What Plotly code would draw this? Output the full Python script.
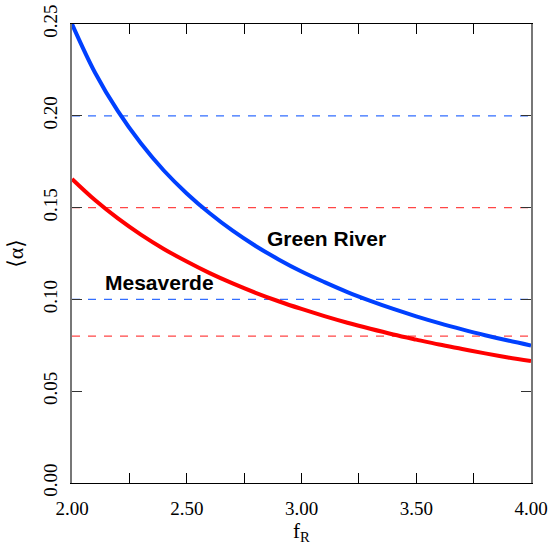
import plotly.graph_objects as go

# data
f_r = [2.0, 2.1, 2.2, 2.3, 2.4, 2.5, 2.6, 2.7, 2.8, 2.9, 3.0,
       3.1, 3.2, 3.3, 3.4, 3.5, 3.6, 3.7, 3.8, 3.9, 4.0]
green_river = [0.250, 0.2236, 0.2025, 0.1850, 0.1702, 0.1577, 0.1469, 0.1374, 0.1291, 0.1218, 0.1152,
               0.1094, 0.1040, 0.0992, 0.0948, 0.0908, 0.0871, 0.0837, 0.0805, 0.0776, 0.0749]
mesaverde = [0.1656, 0.1541, 0.1441, 0.1353, 0.1275, 0.1206, 0.1143, 0.1087, 0.1036, 0.0990, 0.0948,
             0.0909, 0.0873, 0.0840, 0.0809, 0.0781, 0.0754, 0.0730, 0.0706, 0.0684, 0.0664]
green_river_levels = [0.20, 0.10]
mesaverde_levels = [0.15, 0.08]

x_tickvals = [2.0, 2.5, 3.0, 3.5, 4.0]
x_ticktext = ["2.00", "2.50", "3.00", "3.50", "4.00"]
x_minor_tickvals = [2.25, 2.75, 3.25, 3.75]
y_tickvals = [0.0, 0.05, 0.10, 0.15, 0.20, 0.25]
y_ticktext = ["0.00", "0.05", "0.10", "0.15", "0.20", "0.25"]

BLUE = "rgb(0,64,255)"
RED = "rgb(255,0,0)"
BLUE_D = "rgb(50,110,255)"
RED_D = "rgb(255,70,70)"

fig = go.Figure()
for lv in green_river_levels:
    fig.add_trace(go.Scatter(x=[f_r[0], f_r[-1]], y=[lv, lv], mode="lines",
                             line=dict(color=BLUE_D, width=1.2, dash="8px,8px"),
                             showlegend=False, hoverinfo="skip"))
for lv in mesaverde_levels:
    fig.add_trace(go.Scatter(x=[f_r[0], f_r[-1]], y=[lv, lv], mode="lines",
                             line=dict(color=RED_D, width=1.2, dash="8px,8px"),
                             showlegend=False, hoverinfo="skip"))

fig.add_trace(go.Scatter(x=f_r, y=mesaverde, mode="lines", name="Mesaverde",
                         line=dict(color=RED, width=4, shape="spline"), showlegend=False))
fig.add_trace(go.Scatter(x=f_r, y=green_river, mode="lines", name="Green River",
                         line=dict(color=BLUE, width=4, shape="spline"), showlegend=False))

fig.add_annotation(x=3.107, y=0.133, text="<b>Green River</b>", showarrow=False,
                   font=dict(family="Liberation Sans, Arial", size=21, color="black"))
fig.add_annotation(x=2.383, y=0.109, text="<b>Mesaverde</b>", showarrow=False,
                   font=dict(family="Liberation Sans, Arial", size=21, color="black"))

axis_common = dict(showgrid=False, zeroline=False, showline=True,
                   mirror="ticks", ticks="inside", ticklen=10,
                   tickwidth=1.2, automargin=False,
                   tickfont=dict(family="Liberation Serif, Times New Roman, serif", size=19, color="black"))

fig.update_xaxes(range=[2.0, 4.0], tickmode="array", tickvals=x_tickvals, ticktext=x_ticktext,
                 minor=dict(tickmode="array", tickvals=x_minor_tickvals, ticks="inside",
                            ticklen=10, tickwidth=1.2, tickcolor="black", showgrid=False),
                 linecolor="black", linewidth=1.2, tickcolor="black",
                 title=dict(text="f<sub>R</sub>", standoff=4,
                            font=dict(family="Liberation Serif, serif", size=21, color="black")),
                 ticklabelstandoff=8, **axis_common)
fig.update_yaxes(range=[0.0, 0.25], tickmode="array", tickvals=y_tickvals, ticktext=y_ticktext,
                 tickangle=-90, linecolor="#777", linewidth=1.5, tickcolor="#333",
                 title=dict(text="⟨α⟩", standoff=10,
                            font=dict(family="Liberation Serif, DejaVu Serif, serif", size=22, color="black")),
                 ticklabelstandoff=6, **axis_common)

fig.update_layout(width=548, height=550, margin=dict(l=72, r=17, t=24, b=67),
                  plot_bgcolor="white", paper_bgcolor="white")

fig.write_html("out.html", config={"displayModeBar": False},
               post_script="document.body.style.margin='0px';document.body.style.overflow='hidden';")
